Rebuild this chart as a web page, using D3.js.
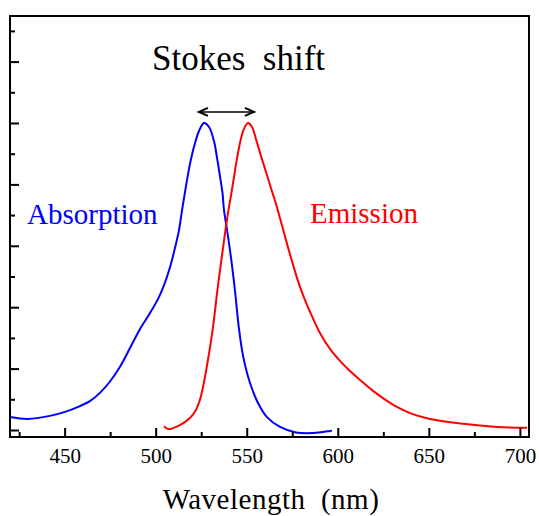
<!DOCTYPE html>
<html>
<head>
<meta charset="utf-8">
<script src="https://cdn.jsdelivr.net/npm/d3@7"></script>
<style>
    body { margin: 0; background: white; }
    svg { display: block; }
    text { font-family: "Liberation Serif", "Times New Roman", serif; }
</style>
</head>
<body>
<svg id="spectrum"></svg>
<script>

    // absorption spectrum (blue)
    var absWavelength = [419.9, 429.8, 441.9, 450.2, 458.4, 463.9, 469.4, 474.9, 480.4, 485.9, 491.4, 496.9, 501.3, 504.6, 507.9, 510.6, 512.8, 514.4, 516.1, 517.7, 519.4, 521.6, 523.8, 526.5, 529.3, 532.0, 533.7, 535.3, 536.7, 537.5, 539.2, 541.3, 543.5, 545.5, 547.9, 551.8, 556.2, 561.1, 568.3, 577.0, 586.4, 595.7, 596.8]
    var absIntensity = [0.042, 0.036, 0.046, 0.059, 0.078, 0.094, 0.121, 0.158, 0.206, 0.267, 0.329, 0.381, 0.427, 0.472, 0.531, 0.593, 0.651, 0.713, 0.775, 0.831, 0.883, 0.935, 0.974, 1.0, 0.987, 0.941, 0.886, 0.827, 0.772, 0.717, 0.651, 0.564, 0.456, 0.342, 0.244, 0.153, 0.088, 0.042, 0.010, -0.008, -0.010, -0.003, -0.002]

    // emission spectrum (red)
    var emWavelength = [504.6, 506.8, 513.3, 518.8, 522.1, 524.3, 526.0, 528.7, 531.5, 533.7, 536.1, 538.3, 540.0, 541.6, 543.0, 544.5, 546.3, 548.2, 550.7, 552.9, 555.4, 557.8, 560.6, 563.3, 566.1, 568.3, 570.5, 572.7, 574.9, 577.0, 579.2, 582.0, 585.8, 590.2, 595.7, 601.2, 606.7, 612.2, 618.8, 624.8, 632.5, 639.6, 650.6, 668.7, 687.4, 703.9]
    var emIntensity = [0.013, 0.003, 0.016, 0.039, 0.065, 0.098, 0.140, 0.228, 0.336, 0.446, 0.554, 0.651, 0.717, 0.772, 0.824, 0.879, 0.935, 0.977, 1.0, 0.987, 0.941, 0.893, 0.840, 0.788, 0.736, 0.689, 0.642, 0.594, 0.549, 0.507, 0.467, 0.423, 0.371, 0.316, 0.264, 0.225, 0.192, 0.163, 0.130, 0.104, 0.075, 0.055, 0.036, 0.020, 0.010, 0.007]

    var xMajorTicks = [450, 500, 550, 600, 650, 700]
    var xMinorTicks = [425, 475, 525, 575, 625, 675]
    var yMajorTicks = [0, 0.2, 0.4, 0.6, 0.8, 1.0, 1.2]
    var yMinorTicks = [0.1, 0.3, 0.5, 0.7, 0.9, 1.1, 1.3]

    var shiftFrom = 523.2
    var shiftTo = 554.5

    var dimensions = {
        width: 539,
        height: 516,
        margin: {
            top: 16,
            bottom: 79,
            right: 10,
            left: 10
        }
    }

    var svg = d3.select("#spectrum")
        .attr("width", dimensions.width)
        .attr("height", dimensions.height)

    var xScale = d3.scaleLinear()
        .domain([420, 705])
        .range([dimensions.margin.left, dimensions.width - dimensions.margin.right])

    var yScale = d3.scaleLinear()
        .domain([-0.0228, 1.3485])
        .range([dimensions.height - dimensions.margin.bottom, dimensions.margin.top])

    var absData = absWavelength.map((w, i) => ({ x: w, y: absIntensity[i] }))
    var emData = emWavelength.map((w, i) => ({ x: w, y: emIntensity[i] }))

    var line = d3.line()
        .x(d => xScale(d.x))
        .y(d => yScale(d.y))
        .curve(d3.curveCatmullRom.alpha(0.5))

    svg.append("path")
        .datum(absData)
        .attr("d", line)
        .attr("fill", "none")
        .attr("stroke", "#0000ff")
        .attr("stroke-width", 2)

    svg.append("path")
        .datum(emData)
        .attr("d", line)
        .attr("fill", "none")
        .attr("stroke", "#ff0000")
        .attr("stroke-width", 2)

    var bottom = dimensions.height - dimensions.margin.bottom
    var left = dimensions.margin.left

    // ticks point inward
    var xAxisMajor = svg.append("g")
        .attr("transform", `translate(0,${bottom})`)
        .call(d3.axisBottom(xScale).tickValues(xMajorTicks).tickSize(-9).tickFormat(d3.format("d")))
    xAxisMajor.selectAll("text")
        .attr("y", 26)
        .attr("dy", 0)
        .style("font-size", "21px")
        .style("font-family", "'Liberation Serif', serif")
        .attr("fill", "black")

    svg.append("g")
        .attr("transform", `translate(0,${bottom})`)
        .call(d3.axisBottom(xScale).tickValues(xMinorTicks).tickSize(-5).tickFormat(""))

    svg.append("g")
        .attr("transform", `translate(${left},0)`)
        .call(d3.axisLeft(yScale).tickValues(yMajorTicks).tickSize(-9).tickFormat(""))

    svg.append("g")
        .attr("transform", `translate(${left},0)`)
        .call(d3.axisLeft(yScale).tickValues(yMinorTicks).tickSize(-5).tickFormat(""))

    svg.selectAll(".domain").remove()
    svg.selectAll(".tick line").attr("stroke", "black").attr("stroke-width", 2)

    // frame
    svg.append("rect")
        .attr("x", left)
        .attr("y", dimensions.margin.top)
        .attr("width", dimensions.width - dimensions.margin.right - left)
        .attr("height", bottom - dimensions.margin.top)
        .attr("fill", "none")
        .attr("stroke", "black")
        .attr("stroke-width", 2)

    // stokes shift arrow
    var ay = yScale(1.036)
    var ax1 = xScale(shiftFrom)
    var ax2 = xScale(shiftTo)
    svg.append("line")
        .attr("x1", ax1).attr("x2", ax2)
        .attr("y1", ay).attr("y2", ay)
        .attr("stroke", "black")
        .attr("stroke-width", 1.5)
    svg.append("path")
        .attr("d", `M${ax1 + 10},${ay - 4}L${ax1 + 1},${ay}L${ax1 + 10},${ay + 4}`)
        .attr("fill", "none")
        .attr("stroke", "black")
        .attr("stroke-width", 2)
    svg.append("path")
        .attr("d", `M${ax2 - 10},${ay - 4}L${ax2 - 1},${ay}L${ax2 - 10},${ay + 4}`)
        .attr("fill", "none")
        .attr("stroke", "black")
        .attr("stroke-width", 2)

    svg.append("text")
        .attr("x", 152)
        .attr("y", 70)
        .style("font-size", "35px")
        .style("white-space", "pre")
        .attr("fill", "black")
        .text("Stokes  shift")

    svg.append("text")
        .attr("x", 27)
        .attr("y", 224)
        .style("font-size", "29px")
        .attr("fill", "#0000ff")
        .text("Absorption")

    svg.append("text")
        .attr("x", 310)
        .attr("y", 223)
        .style("font-size", "29px")
        .attr("fill", "#ff0000")
        .text("Emission")

    svg.append("text")
        .attr("x", 271)
        .attr("y", 509)
        .attr("text-anchor", "middle")
        .style("font-size", "29px")
        .style("white-space", "pre")
        .style("letter-spacing", "0.5px")
        .attr("fill", "black")
        .text("Wavelength  (nm)")

</script>
</body>
</html>
